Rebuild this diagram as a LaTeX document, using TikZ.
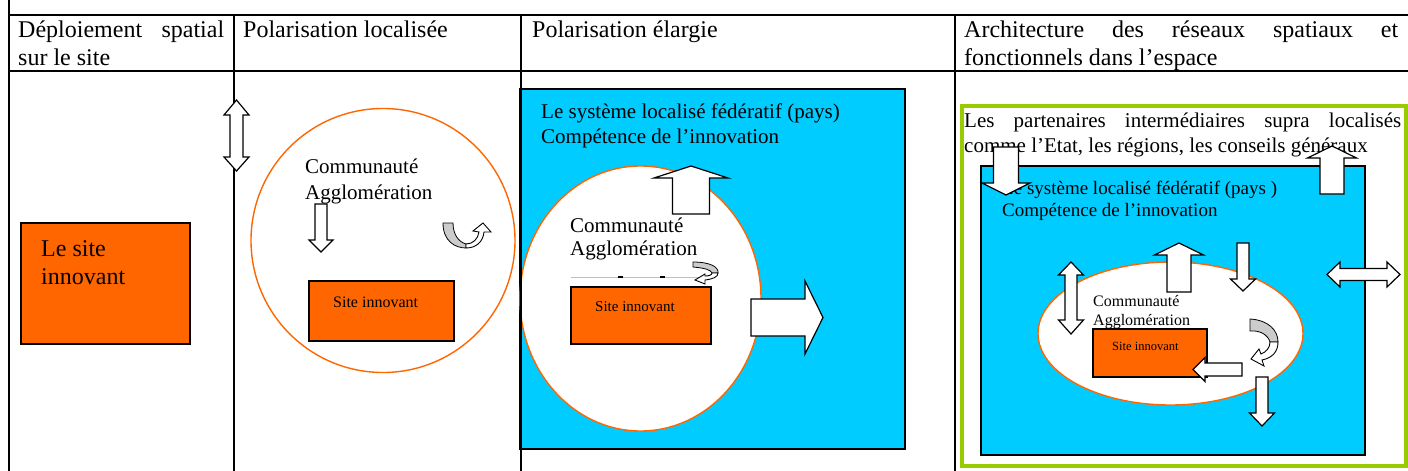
\documentclass[tikz,border=0pt]{standalone}
\usepackage{fontspec}
\setmainfont{Liberation Serif}
\usetikzlibrary{shapes.geometric}
\definecolor{siteorange}{RGB}{255,102,0}
\definecolor{paysblue}{RGB}{0,204,255}
\definecolor{supragreen}{RGB}{153,204,0}
\definecolor{bandgray}{RGB}{204,204,204}
% block arrows: x, tail, head base, tip, shaft half width, head half width
\newcommand{\vblock}[6]{\draw[blockarrow] ({#1-#5},#2) -- ({#1-#5},#3) -- ({#1-#6},#3) -- (#1,#4) -- ({#1+#6},#3) -- ({#1+#5},#3) -- ({#1+#5},#2) -- cycle;}
\newcommand{\hblock}[6]{\draw[blockarrow] (#2,{#1-#5}) -- (#3,{#1-#5}) -- (#3,{#1-#6}) -- (#4,#1) -- (#3,{#1+#6}) -- (#3,{#1+#5}) -- (#2,{#1+#5}) -- cycle;}
% double block arrows: x, tip, base, base, tip, shaft half width, head half width
\newcommand{\vdouble}[7]{\draw[blockarrow] (#1,#2) -- ({#1+#7},#3) -- ({#1+#6},#3) -- ({#1+#6},#4) -- ({#1+#7},#4) -- (#1,#5) -- ({#1-#7},#4) -- ({#1-#6},#4) -- ({#1-#6},#3) -- ({#1-#7},#3) -- cycle;}
\newcommand{\hdouble}[7]{\draw[blockarrow] (#2,#1) -- (#3,{#1+#7}) -- (#3,{#1+#6}) -- (#4,{#1+#6}) -- (#4,{#1+#7}) -- (#5,#1) -- (#4,{#1-#7}) -- (#4,{#1-#6}) -- (#3,{#1-#6}) -- (#3,{#1-#7}) -- cycle;}
\tikzset{
  rule/.style={line width=1.4pt},
  sitebox/.style={draw=black, fill=siteorange, line width=1.1pt, inner sep=0pt},
  paysbox/.style={draw=black, fill=paysblue, line width=1.1pt, inner sep=0pt},
  agglo/.style={draw=siteorange, fill=white, line width=1.4pt, inner sep=0pt},
  blockarrow/.style={draw=black, fill=white, line width=1.2pt, line join=miter},
  bandarrow/.style={draw=black, fill=bandgray, line width=0.8pt},
  txt/.style={anchor=base west, inner sep=0pt},
}
\begin{document}
\begin{tikzpicture}[x=1pt,y=-1pt]
\useasboundingbox (0,0) rectangle (1408,471);

% COLUMN 1: the site
\node[sitebox, minimum width=169pt, minimum height=121pt] (site1) at (105.5,283.5) {};
\node[txt, font=\fontsize{24}{28}\selectfont] (site1a) at (41,256) {Le site};
\node[txt, font=\fontsize{24}{28}\selectfont] (site1b) at (41,284) {innovant};

% COLUMN 2: localised polarisation
\node[agglo, circle, minimum size=264pt] (agglo2) at (383,240.5) {};
\node[txt, font=\fontsize{21}{25}\selectfont] (agglo2a) at (305,173) {Communauté};
\node[txt, font=\fontsize{21}{25}\selectfont] (agglo2b) at (305,199) {Agglomération};
\node[sitebox, minimum width=145pt, minimum height=60pt] (site2) at (381.5,311) {};
\node[txt, font=\fontsize{16}{19}\selectfont] (site2a) at (333,307) {Site innovant};
\vblock{321}{204}{240}{252}{6}{12}
% turning arrow
\draw[bandarrow] (443,223) .. controls (443,241) and (455,248) .. (466,248) -- (466,244) .. controls (459,242) and (453,235) .. (453,223) -- cycle;
\draw[blockarrow, line width=0.9pt] (466,248) .. controls (476,248) and (483,242) .. (484,232) -- (491,232) -- (483,223) -- (473,231) -- (479,232) .. controls (478,239) and (473,244) .. (466,244) -- cycle;

% COLUMN 3: wider polarisation
\node[paysbox, minimum width=385pt, minimum height=360pt] (pays3) at (712.5,269) {};
\node[txt, font=\fontsize{21}{25}\selectfont] (pays3a) at (541,118) {Le système localisé fédératif (pays)};
\node[txt, font=\fontsize{21}{25}\selectfont] (pays3b) at (541,143) {Compétence de l’innovation};
\node[agglo, ellipse, minimum width=241pt, minimum height=265pt] (agglo3) at (640.5,298.5) {};
\node[txt, font=\fontsize{21}{25}\selectfont] (agglo3a) at (570,232) {Communauté};
\node[txt, font=\fontsize{21}{25}\selectfont] (agglo3b) at (570,255) {Agglomération};
\draw[black!25, line width=0.8pt] (571,277) -- (700,277);
\foreach \x in {618,660} \draw[line width=1.6pt] (\x,277) -- (\x+5,277);
\node[sitebox, minimum width=140pt, minimum height=57pt] (site3) at (641,315.5) {};
\node[txt, font=\fontsize{15}{18}\selectfont] (site3a) at (595,311) {Site innovant};
\draw[bandarrow] (693,262) .. controls (710,262) and (719,267) .. (718,273) -- (712,273) .. controls (711,270) and (705,268) .. (693,267) -- cycle;
\draw[blockarrow, line width=0.9pt] (718,273) .. controls (718,277) and (713,279) .. (705,280) -- (705,284) -- (695,280) -- (705,274) -- (705,276) .. controls (709,276) and (712,275) .. (712,273) -- cycle;
\vblock{691}{214}{178}{166}{18.5}{37}
\hblock{317.5}{751}{805}{823}{18.5}{36.5}

% COLUMN 4: networks in space
\draw[draw=supragreen, fill=white, line width=4pt] (962,106) rectangle (1406,466);
\node[txt, font=\fontsize{21}{25}\selectfont] (supra4a) at (964,127) {\makebox[437pt][s]{Les partenaires intermédiaires supra localisés}};
\node[txt, font=\fontsize{21}{25}\selectfont] (supra4b) at (964,152) {comme l’Etat, les régions, les conseils généraux};
\node[paysbox, minimum width=384pt, minimum height=289pt] (pays4) at (1173,310.5) {};
\node[txt, font=\fontsize{19}{22}\selectfont] (pays4a) at (1002,194) {Le système localisé fédératif (pays )};
\node[txt, font=\fontsize{19}{22}\selectfont] (pays4b) at (1002,216) {Compétence de l’innovation};
\node[agglo, ellipse, minimum width=265pt, minimum height=143pt] (agglo4) at (1170.5,333.5) {};
\node[txt, font=\fontsize{16}{19}\selectfont] (agglo4a) at (1093,306) {Communauté};
\node[txt, font=\fontsize{16}{19}\selectfont] (agglo4b) at (1093,325) {Agglomération};
\node[sitebox, minimum width=114pt, minimum height=48pt] (site4) at (1150,353) {};
\node[txt, font=\fontsize{12.5}{15}\selectfont] (site4a) at (1112,350) {Site innovant};
\vblock{1006}{147}{183}{195}{12.5}{24}
\vblock{1332}{194}{158}{146}{12}{24.5}
\vblock{1179}{292}{255}{243}{12}{24.5}
\vblock{1243}{243}{279}{291}{6}{12.5}
\vdouble{1071}{262}{275}{320}{334}{6}{12.5}
\hdouble{274.5}{1327}{1340}{1387}{1400}{6}{12.5}
\hblock{369.5}{1242}{1205}{1193}{6.5}{12}
\vblock{1262}{377}{413}{426}{6}{12.5}
\draw[bandarrow] (1250,319) .. controls (1268,320) and (1278,330) .. (1278,342) -- (1270,342) .. controls (1268,335) and (1260,330) .. (1250,331) -- cycle;
\draw[blockarrow, line width=0.9pt] (1278,342) .. controls (1278,352) and (1272,358) .. (1262,360) -- (1264,366) -- (1251,359) -- (1259,349) -- (1261,354) .. controls (1266,352) and (1270,348) .. (1270,342) -- cycle;

% TABLE
\draw[rule] (9,0) -- (9,471);
\draw[rule] (9,15) -- (1408,15);
\draw[rule] (9,71) -- (1408,71);
\foreach \x in {234,521,955} \draw[rule] (\x,15) -- (\x,471);
\node[txt, font=\fontsize{24}{28}\selectfont] (head1a) at (18,37) {\makebox[206pt][s]{Déploiement spatial}};
\node[txt, font=\fontsize{24}{28}\selectfont] (head1b) at (18,65) {sur le site};
\node[txt, font=\fontsize{24}{28}\selectfont] (head2) at (243,37) {Polarisation localisée};
\node[txt, font=\fontsize{24}{28}\selectfont] (head3) at (532,37) {Polarisation élargie};
\node[txt, font=\fontsize{24}{28}\selectfont] (head4a) at (964,37) {\makebox[434pt][s]{Architecture des réseaux spatiaux et}};
\node[txt, font=\fontsize{24}{28}\selectfont] (head4b) at (964,65) {fonctionnels dans l’espace};
% boundary arrow over the rule
\vdouble{236.5}{100}{115}{157}{171}{6.5}{12.5}
\end{tikzpicture}
\end{document}
